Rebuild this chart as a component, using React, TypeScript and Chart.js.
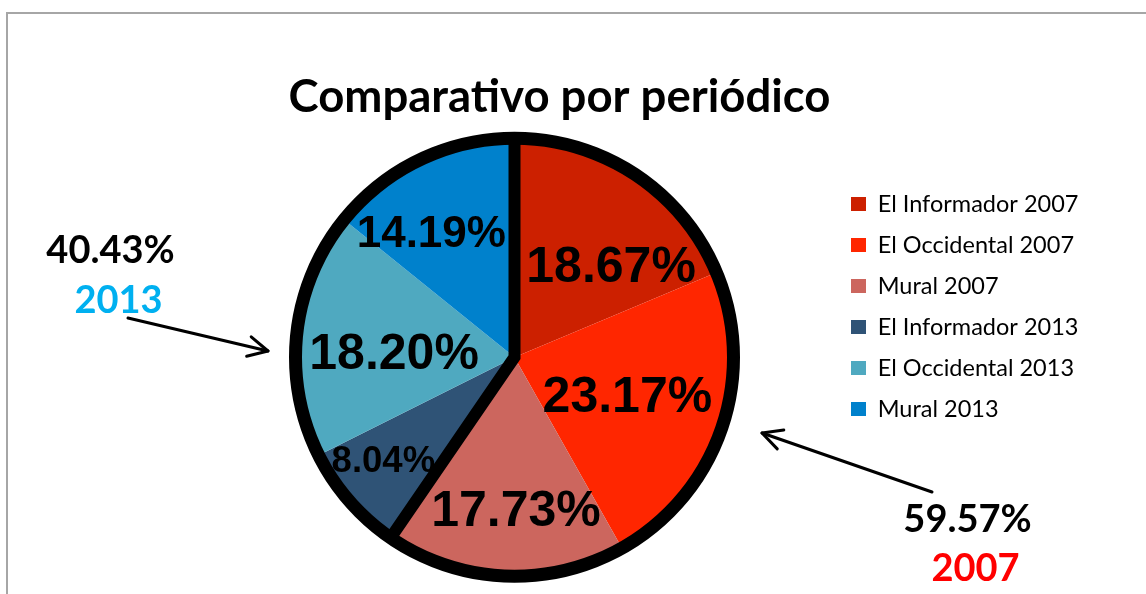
import React, { useEffect, useRef } from "react";
import { Chart, registerables } from "chart.js";

Chart.register(...registerables);

// ---------- data ----------
const categories = [
  "El Informador 2007",
  "El Occidental 2007",
  "Mural 2007",
  "El Informador 2013",
  "El Occidental 2013",
  "Mural 2013",
];
const shares = [18.67, 23.17, 17.73, 8.04, 18.2, 14.19];
const sliceYears = ["2007", "2007", "2007", "2013", "2013", "2013"];
const groupYears = ["2013", "2007"];
const groupTotals = [40.43, 59.57];
const chartTitle = "Comparativo por periódico";

// ---------- style ----------
const sliceColors = ["#CC2000", "#FF2600", "#CC665E", "#2F5376", "#4FA9C0", "#0081CC"];
const groupYearColors = ["#00B0F0", "#FF0000"];
const labelFontSizes = [50, 50, 50, 36.5, 50, 44];
const labelRadiusFrac = [0.599, 0.548, 0.707, 0.766, 0.55, 0.675];
const labelAngleShift = [13.8, 0.9, -3.1, 2.5, -5.4, -8.7];

const W = 1146;
const H = 594;
const SANS = "Lato, 'Open Sans', sans-serif";
const LABEL_FONT = "'Liberation Sans', Arial, sans-serif";
const PIE_CX = 514.5;
const PIE_CY = 357.25;
const PIE_R = 219;
const LEGEND_FONT = 23.5;
const LEGEND_PAD = 41 - LEGEND_FONT;
const LEGEND_LEFT = 851 - LEGEND_PAD;
const LEGEND_BOX_W = 15;
const LEGEND_BOX_H = 14;
const LEGEND_FIRST_CENTER = 204;
const LEGEND_EXTRA = 10; // Chart.js adds 10px to vertical legend width

// annotation placement (pixels)
const groupAnnot = [
  { pctX: 110.5, pctY: 263, yearX: 118.5, yearY: 313, tail: [128, 318], tip: [268, 351] },
  { pctX: 967.5, pctY: 532, yearX: 975.5, yearY: 581, tail: [932, 492], tip: [762, 433] },
];

function drawArrow(ctx: CanvasRenderingContext2D, tail: number[], tip: number[]) {
  const ang = Math.atan2(tip[1] - tail[1], tip[0] - tail[0]);
  const back = ang + Math.PI;
  const len = 22;
  const phi = (27 * Math.PI) / 180;
  ctx.beginPath();
  ctx.moveTo(tail[0], tail[1]);
  ctx.lineTo(tip[0], tip[1]);
  ctx.stroke();
  ctx.beginPath();
  ctx.moveTo(tip[0] + len * Math.cos(back + phi), tip[1] + len * Math.sin(back + phi));
  ctx.lineTo(tip[0], tip[1]);
  ctx.lineTo(tip[0] + len * Math.cos(back - phi), tip[1] + len * Math.sin(back - phi));
  ctx.stroke();
}

const decorPlugin = {
  id: "decor",
  beforeDraw(chart: any) {
    const ctx = chart.ctx as CanvasRenderingContext2D;
    ctx.save();
    ctx.fillStyle = "#a6a6a6";
    ctx.fillRect(6, 12, W, 2);
    ctx.fillRect(6, 12, 2, H);
    ctx.restore();
  },
  afterDatasetsDraw(chart: any) {
    const ctx = chart.ctx as CanvasRenderingContext2D;
    const arcs = chart.getDatasetMeta(0).data as any[];
    if (!arcs.length) return;
    const { x, y, outerRadius } = arcs[0];
    ctx.save();
    ctx.strokeStyle = "#000";
    // separators between the 2007 and 2013 groups
    const bounds: number[] = [];
    for (let i = 0; i < arcs.length; i++) {
      const prev = (i - 1 + arcs.length) % arcs.length;
      if (sliceYears[i] !== sliceYears[prev]) bounds.push(arcs[i].startAngle);
    }
    ctx.lineWidth = 12;
    ctx.lineJoin = "miter";
    ctx.beginPath();
    bounds.forEach((a, k) => {
      const ex = x + Math.cos(a) * outerRadius;
      const ey = y + Math.sin(a) * outerRadius;
      if (k === 0) {
        ctx.moveTo(ex, ey);
        ctx.lineTo(x, y);
      } else {
        ctx.lineTo(ex, ey);
      }
    });
    ctx.stroke();
    // outer ring
    ctx.lineWidth = 13;
    ctx.beginPath();
    ctx.arc(x, y, outerRadius, 0, Math.PI * 2);
    ctx.stroke();
    // value labels
    ctx.fillStyle = "#000";
    ctx.textAlign = "center";
    ctx.textBaseline = "middle";
    arcs.forEach((arc, i) => {
      const mid = (arc.startAngle + arc.endAngle) / 2 + (labelAngleShift[i] * Math.PI) / 180;
      const r = outerRadius * labelRadiusFrac[i];
      ctx.font = `bold ${labelFontSizes[i]}px ${LABEL_FONT}`;
      ctx.fillText(shares[i].toFixed(2) + "%", x + Math.cos(mid) * r, y + Math.sin(mid) * r);
    });
    ctx.restore();
  },
  afterDraw(chart: any) {
    const ctx = chart.ctx as CanvasRenderingContext2D;
    ctx.save();
    ctx.textAlign = "center";
    ctx.textBaseline = "alphabetic";
    ctx.fillStyle = "#000";
    ctx.font = `bold 45.5px ${SANS}`;
    ctx.fillText(chartTitle, 559.5, 112);
    groupAnnot.forEach((g, i) => {
      ctx.font = `bold 38px ${SANS}`;
      ctx.fillStyle = "#000";
      ctx.fillText(groupTotals[i].toFixed(2) + "%", g.pctX, g.pctY);
      ctx.fillStyle = groupYearColors[i];
      ctx.fillText(groupYears[i], g.yearX, g.yearY);
      ctx.strokeStyle = "#000";
      ctx.lineWidth = 3;
      ctx.lineCap = "round";
      ctx.lineJoin = "round";
      drawArrow(ctx, g.tail, g.tip);
    });
    ctx.restore();
  },
};

export default function App() {
  const ref = useRef<HTMLCanvasElement>(null);
  useEffect(() => {
    const canvas = ref.current;
    if (!canvas) return;
    const mctx = document.createElement("canvas").getContext("2d")!;
    mctx.font = `${LEGEND_FONT}px ${SANS}`;
    const maxText = Math.max(...categories.map((c) => mctx.measureText(c).width));
    const legendWidth = LEGEND_PAD + LEGEND_BOX_W + LEGEND_FONT / 2 + maxText + LEGEND_EXTRA;
    const padLeft = 2 * PIE_CX - LEGEND_LEFT;
    const padTop = LEGEND_FIRST_CENTER - LEGEND_FONT / 2 - LEGEND_PAD;
    const padBottom = H - (2 * PIE_CY - padTop);
    const padRight = W - LEGEND_LEFT - legendWidth;

    const chart = new Chart(canvas, {
      type: "pie",
      data: {
        labels: categories,
        datasets: [
          {
            data: shares,
            backgroundColor: sliceColors,
            borderWidth: 0,
            radius: PIE_R,
            clip: false,
          } as any,
        ],
      },
      options: {
        responsive: true,
        maintainAspectRatio: false,
        animation: false,
        events: [],
        layout: { padding: { left: padLeft, right: padRight, top: padTop, bottom: padBottom } },
        plugins: {
          title: { display: false },
          tooltip: { enabled: false },
          legend: {
            display: true,
            position: "right",
            align: "start",
            labels: {
              boxWidth: LEGEND_BOX_W,
              boxHeight: LEGEND_BOX_H,
              padding: LEGEND_PAD,
              color: "#000",
              font: { family: SANS, size: LEGEND_FONT },
            },
          },
        },
      } as any,
      plugins: [decorPlugin],
    });
    return () => chart.destroy();
  }, []);
  return (
    <div style={{ position: "absolute", left: 0, top: 0, width: W, height: H, background: "#fff" }}>
      <canvas ref={ref} />
    </div>
  );
}
